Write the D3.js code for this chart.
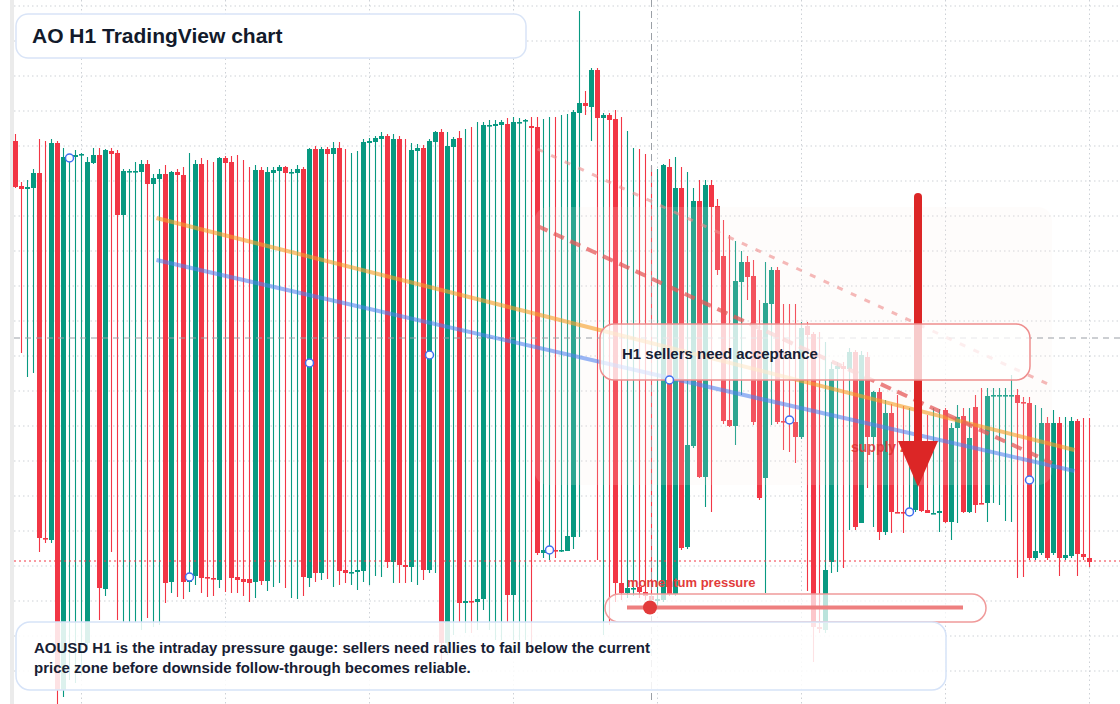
<!DOCTYPE html>
<html>
<head>
<meta charset="utf-8">
<title>AO H1 TradingView chart</title>
<style>
  html, body { margin: 0; padding: 0; background: #fff; }
  svg { display: block; font-family: "Liberation Sans", Arial, sans-serif; }
</style>
</head>
<body>
<svg id="chart" width="1120" height="704"></svg>
<script src="https://cdn.jsdelivr.net/npm/d3@7"></script>
<script>
// AOUSD H1 candles, in price units
const opens = [
  .565,.520,.517,.518,.533,.168,.166,.563,.016,.548,
  .549,.551,.063,.543,.551,.117,.555,.553,.491,.534,
  .534,.534,.542,.522,.527,.532,.124,.534,.531,.124,
  .130,.542,.129,.128,.126,.548,.544,.129,.127,.127,
  .124,.536,.125,.533,.535,.539,.533,.533,.537,.128,
  .557,.133,.557,.552,.558,.136,.133,.134,.135,.563,
  .564,.567,.570,.144,.567,.141,.139,.555,.558,.136,
  .564,.574,.063,.559,.568,.103,.105,.104,.107,.580,
  .580,.581,.582,.111,.583,.585,.580,.579,.153,.156,
  .156,.155,.155,.169,.593,.603,.599,.636,.588,.591,
  .587,.123,.113,.117,.119,.114,.110,.105,.106,.539,
  .112,.518,.159,.260,.505,.229,.521,.500,.450,.286,
  .280,.424,.444,.430,.376,.228,.402,.436,.285,.285,
  .284,.269,.380,.372,.079,.076,.144,.337,.340,.337,
  .354,.183,.349,.269,.314,.174,.293,.194,.194,.193,
  .196,.236,.196,.192,.193,.296,.184,.278,.290,.194,
  .299,.203,.203,.310,.310,.310,.310,.311,.304,.303,
  .148,.153,.283,.153,.283,.148,.150,.285,.152,.148
]
const closes = [
  .519,.517,.519,.533,.168,.167,.563,.016,.549,.549,
  .551,.552,.544,.551,.118,.556,.552,.491,.535,.535,
  .535,.542,.522,.528,.532,.123,.534,.531,.124,.129,
  .542,.128,.128,.127,.548,.543,.128,.126,.124,.123,
  .536,.125,.534,.536,.539,.533,.534,.537,.129,.557,
  .133,.557,.552,.558,.135,.133,.134,.136,.564,.565,
  .568,.570,.144,.567,.141,.139,.556,.558,.136,.565,
  .574,.063,.560,.567,.103,.105,.104,.107,.581,.581,
  .582,.584,.111,.584,.584,.586,.578,.153,.156,.157,
  .155,.156,.170,.594,.603,.600,.636,.588,.591,.586,
  .123,.113,.118,.118,.114,.110,.106,.107,.541,.112,
  .518,.158,.261,.505,.229,.521,.499,.436,.285,.280,
  .425,.444,.429,.284,.208,.403,.436,.284,.284,.284,
  .269,.378,.371,.079,.077,.136,.337,.340,.337,.354,
  .179,.351,.269,.314,.174,.293,.194,.193,.193,.194,
  .236,.195,.193,.193,.195,.184,.278,.289,.194,.268,
  .201,.202,.310,.311,.311,.311,.311,.303,.303,.148,
  .155,.283,.148,.283,.148,.151,.285,.152,.149,.144
]
const highs = [
  .572,.524,.526,.537,.567,.565,.567,.565,.558,.551,
  .556,.553,.549,.558,.558,.557,.558,.556,.537,.537,
  .544,.546,.546,.532,.537,.541,.535,.537,.539,.553,
  .546,.548,.546,.544,.549,.550,.550,.551,.546,.539,
  .541,.539,.539,.539,.541,.540,.537,.541,.539,.558,
  .560,.559,.559,.564,.564,.557,.553,.555,.567,.568,
  .570,.574,.572,.572,.570,.567,.563,.562,.561,.567,
  .575,.577,.574,.569,.575,.577,.579,.584,.584,.586,
  .586,.586,.588,.589,.588,.587,.589,.589,.587,.589,
  .589,.591,.592,.596,.695,.615,.638,.638,.593,.593,
  .596,.589,.575,.558,.557,.552,.540,.537,.542,.547,
  .549,.539,.534,.518,.526,.526,.526,.507,.486,.471,
  .465,.455,.450,.446,.406,.444,.439,.439,.402,.402,
  .402,.384,.384,.374,.374,.364,.344,.344,.344,.358,
  .356,.355,.354,.315,.318,.306,.302,.311,.300,.298,
  .261,.261,.291,.298,.297,.298,.283,.301,.298,.298,
  .311,.318,.318,.318,.318,.318,.331,.317,.309,.309,
  .301,.298,.289,.296,.289,.289,.289,.287,.288,.288
]
const lows = [
  .518,.353,.329,.333,.154,.163,.163,.001,.009,.026,
  .023,.031,.056,.542,.086,.110,.154,.086,.084,.084,
  .084,.076,.088,.079,.081,.103,.113,.109,.107,.114,
  .121,.113,.109,.110,.118,.114,.113,.113,.110,.104,
  .108,.121,.115,.119,.123,.118,.108,.107,.110,.119,
  .124,.126,.127,.119,.121,.123,.121,.116,.124,.121,
  .130,.129,.138,.123,.123,.123,.124,.121,.126,.133,
  .133,.046,.051,.071,.084,.073,.073,.076,.096,.076,
  .066,.066,.084,.066,.066,.066,.061,.151,.148,.146,
  .148,.154,.155,.157,.169,.591,.565,.146,.071,.081,
  .104,.106,.108,.110,.108,.106,.101,.100,.104,.110,
  .110,.156,.157,.258,.228,.199,.194,.431,.282,.279,
  .261,.311,.406,.281,.206,.113,.281,.282,.256,.254,
  .243,.267,.115,.044,.073,.073,.133,.134,.138,.176,
  .176,.183,.218,.179,.166,.171,.173,.193,.173,.192,
  .194,.194,.193,.192,.174,.183,.166,.183,.193,.193,
  .193,.202,.184,.203,.201,.185,.184,.128,.129,.146,
  .146,.151,.146,.151,.130,.146,.148,.130,.146,.139
]

// sampled markers (candle index, price)
const markerIdx = [9, 29, 49, 69, 89, 109, 129, 149, 169]
const markerVals = [.548, .129, .343, .351, .156, .326, .286, .194, .226]

// day separators (candle index) and price grid step
const dayIdx = [11, 35, 59, 83, 107, 131, 155, 179]
const gridStep = 0.035

// drawn studies: [startIdx, startPrice, endIdx, endPrice]
const orangeTrend = [23.5, .488, 176.5, .256]
const blueTrend = [23.5, .446, 176.5, .235]
const upperDash = [87, .557, 172.75, .320]
const lowerDash = [87, .480, 172.75, .243]
const supplyZone = { from: 86.5, to: 172.75, top: .499, bottom: .221 }
const crossIdx = 106
const crossPrice = .368
const lastPrice = .145

const W = 1120, H = 704
const svg = d3.select("#chart")

const x = d3.scaleLinear().domain([0, 179]).range([15.5, 1089.5])
const y = d3.scaleLinear().domain([0, 0.7]).range([706, 6])

const candles = opens.map((o, i) => ({ i: i, o: o, h: highs[i], l: lows[i], c: closes[i] }))
const up = "#089981", down = "#f23645"

// grid
let grid = svg.append("g")
grid.append("rect").attr("x", 10).attr("y", 0).attr("width", 4).attr("height", H).attr("fill", "#ebebeb")
grid.selectAll(".hg")
  .data(d3.range(0, 0.7001, gridStep))
  .enter().append("line")
  .attr("x1", 14).attr("x2", W)
  .attr("y1", d => y(d)).attr("y2", d => y(d))
  .attr("stroke", "#cdd1d6").attr("stroke-dasharray", "1.5 3")
grid.selectAll(".vg")
  .data(dayIdx)
  .enter().append("line")
  .attr("x1", d => x(d)).attr("x2", d => x(d))
  .attr("y1", 0).attr("y2", H)
  .attr("stroke", "#cdd1d6").attr("stroke-dasharray", "1.5 3")

// candles
let cg = svg.append("g")
let g = cg.selectAll(".candle").data(candles).enter().append("g")
g.append("line")
  .attr("x1", d => x(d.i)).attr("x2", d => x(d.i))
  .attr("y1", d => y(d.h)).attr("y2", d => y(d.l))
  .attr("stroke", d => d.c >= d.o ? up : down)
  .attr("stroke-width", 1.1)
g.append("rect")
  .attr("x", d => x(d.i) - 2.5)
  .attr("width", 5)
  .attr("y", d => y(Math.max(d.o, d.c)))
  .attr("height", d => Math.max(1.6, Math.abs(y(d.o) - y(d.c))))
  .attr("fill", d => d.c >= d.o ? up : down)

// supply zone wash
svg.append("rect")
  .attr("x", x(supplyZone.from)).attr("y", y(supplyZone.top))
  .attr("width", x(supplyZone.to) - x(supplyZone.from))
  .attr("height", y(supplyZone.bottom) - y(supplyZone.top))
  .attr("rx", 14)
  .attr("fill", "#f7efe6").attr("fill-opacity", 0.16)

// crosshair + last price
svg.append("line")
  .attr("x1", 14).attr("x2", W).attr("y1", y(crossPrice)).attr("y2", y(crossPrice))
  .attr("stroke", "#9a9fa6").attr("stroke-dasharray", "6 5")
svg.append("line")
  .attr("x1", x(crossIdx)).attr("x2", x(crossIdx)).attr("y1", 0).attr("y2", H)
  .attr("stroke", "#9a9fa6").attr("stroke-dasharray", "7 4")
svg.append("line")
  .attr("x1", 14).attr("x2", W).attr("y1", y(lastPrice)).attr("y2", y(lastPrice))
  .attr("stroke", down).attr("stroke-dasharray", "2 3")

// studies
function seg(s) {
  return svg.append("line")
    .attr("x1", x(s[0])).attr("y1", y(s[1]))
    .attr("x2", x(s[2])).attr("y2", y(s[3]))
    .attr("fill", "none")
}
seg(orangeTrend).attr("stroke", "#f5a02a").attr("stroke-width", 4).attr("stroke-opacity", 0.62)
seg(blueTrend).attr("stroke", "#4f82f0").attr("stroke-width", 4).attr("stroke-opacity", 0.58)
seg(upperDash).attr("stroke", "#ef8a8a").attr("stroke-width", 3).attr("stroke-opacity", 0.6)
  .attr("stroke-dasharray", "6 9")
seg(lowerDash).attr("stroke", "#e65a5a").attr("stroke-width", 4).attr("stroke-opacity", 0.75)
  .attr("stroke-dasharray", "11 7")

// supply zone label + arrow
svg.append("text")
  .attr("x", 851).attr("y", 452)
  .attr("font-size", 14).attr("font-weight", "bold")
  .attr("fill", "#e03131").attr("fill-opacity", 0.85)
  .text("supply zone")
svg.append("line")
  .attr("x1", 918).attr("x2", 918).attr("y1", 197).attr("y2", 446)
  .attr("stroke", "#dc2626").attr("stroke-width", 8).attr("stroke-linecap", "round")
svg.append("path")
  .attr("d", "M898,441 L938,441 L918,487 Z")
  .attr("fill", "#dc2626")

// callout box
svg.append("rect")
  .attr("x", 600).attr("y", 324).attr("width", 430).attr("height", 56).attr("rx", 14)
  .attr("fill", "#fff").attr("fill-opacity", 0.76)
  .attr("stroke", "#ee8e8e").attr("stroke-width", 1.5)
svg.append("text")
  .attr("x", 622).attr("y", 359)
  .attr("font-size", 15).attr("font-weight", "bold").attr("fill", "#172033")
  .text("H1 sellers need acceptance")

// markers
svg.selectAll(".mk")
  .data(markerIdx)
  .enter().append("circle")
  .attr("cx", d => x(d))
  .attr("cy", (d, k) => y(markerVals[k]))
  .attr("r", 4)
  .attr("fill", "#fff").attr("stroke", "#3f6ef0").attr("stroke-width", 1.5)

// momentum gauge
svg.append("text")
  .attr("x", 627).attr("y", 587)
  .attr("font-size", 13).attr("font-weight", "bold").attr("fill", "#e23b3b")
  .text("momentum pressure")
svg.append("rect")
  .attr("x", 605).attr("y", 594).attr("width", 381).attr("height", 28).attr("rx", 14)
  .attr("fill", "#fff").attr("fill-opacity", 0.72)
  .attr("stroke", "#f09a9a").attr("stroke-width", 1.5)
svg.append("line")
  .attr("x1", 627).attr("x2", 963).attr("y1", 607.5).attr("y2", 607.5)
  .attr("stroke", "#ee7f7f").attr("stroke-width", 4)
svg.append("circle")
  .attr("cx", 650).attr("cy", 607.5).attr("r", 7).attr("fill", "#e23b3b")

// title
svg.append("rect")
  .attr("x", 16).attr("y", 14).attr("width", 510).attr("height", 44).attr("rx", 12)
  .attr("fill", "#fff").attr("stroke", "#d9e4f7").attr("stroke-width", 1.5)
svg.append("text")
  .attr("x", 32).attr("y", 43)
  .attr("font-size", 21).attr("font-weight", "bold").attr("fill", "#121a2b")
  .text("AO H1 TradingView chart")

// bottom note
svg.append("rect")
  .attr("x", 16).attr("y", 622).attr("width", 930).attr("height", 68).attr("rx", 14)
  .attr("fill", "#fff").attr("fill-opacity", 0.86)
  .attr("stroke", "#d6e3f8").attr("stroke-width", 1.5)
let note = svg.append("text")
  .attr("font-size", 15).attr("font-weight", "bold").attr("fill", "#172033")
note.append("tspan").attr("x", 34).attr("y", 653)
  .text("AOUSD H1 is the intraday pressure gauge: sellers need rallies to fail below the current")
note.append("tspan").attr("x", 34).attr("y", 673)
  .text("price zone before downside follow-through becomes reliable.")
</script>
</body>
</html>
